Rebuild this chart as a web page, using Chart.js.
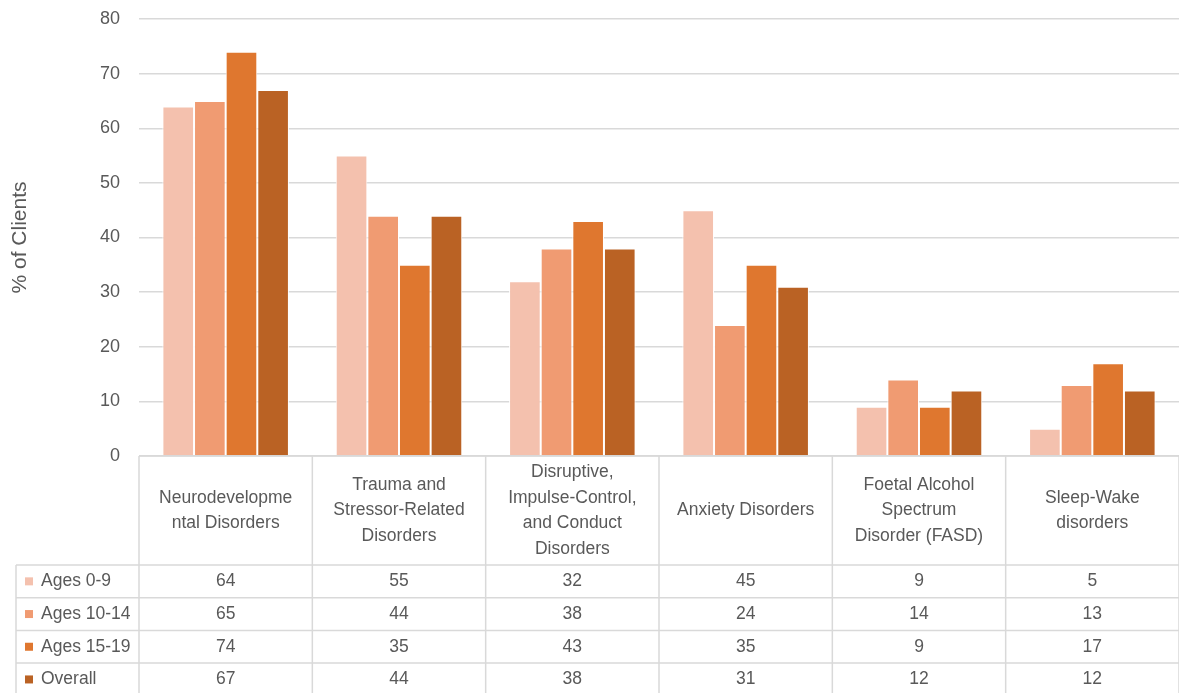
<!DOCTYPE html>
<html>
<head>
<meta charset="utf-8">
<script src="https://cdn.jsdelivr.net/npm/chart.js@4"></script>
<style>
  html, body { margin: 0; padding: 0; background: #fff; }
  #wrap { width: 1179px; height: 693px; }
</style>
</head>
<body>
<div id="wrap"><canvas id="clientsChart"></canvas></div>
<script>
// categorie (righe spezzate come nell'intestazione della tabella)
const categories = [
    ['Neurodevelopme', 'ntal Disorders'],
    ['Trauma and', 'Stressor-Related', 'Disorders'],
    ['Disruptive,', 'Impulse-Control,', 'and Conduct', 'Disorders'],
    ['Anxiety Disorders'],
    ['Foetal Alcohol', 'Spectrum', 'Disorder (FASD)'],
    ['Sleep-Wake', 'disorders']
];
const seriesNames = ['Ages 0-9', 'Ages 10-14', 'Ages 15-19', 'Overall'];
const ages0to9 = [64, 55, 32, 45, 9, 5];
const ages10to14 = [65, 44, 38, 24, 14, 13];
const ages15to19 = [74, 35, 43, 35, 9, 17];
const overall = [67, 44, 38, 31, 12, 12];
const seriesColors = ['#F4C1AE', '#F09B72', '#DF772F', '#BA6224'];

const yMin = 0, yMax = 80, yStep = 10;
const yTitle = '% of Clients';

const FONT = "'Liberation Sans', Arial, sans-serif";
const TEXT = '#595959';
const LINE = '#d9d9d9';

// tabella dati sotto il grafico (stile Excel)
const dataTablePlugin = {
    id: 'dataTable',
    afterDraw(chart) {
        const ctx = chart.ctx;
        const xs = chart.scales.x;
        const area = chart.chartArea;
        const top = area.bottom;
        const headerH = 109;
        const rowH = 32.7;
        const tableLeft = 16;
        const n = categories.length;
        const colW = (area.right - area.left) / n;
        const bottom = top + headerH + rowH * seriesNames.length;

        ctx.save();
        ctx.strokeStyle = LINE;
        ctx.lineWidth = 1.5;
        ctx.beginPath();
        ctx.moveTo(area.left, top);
        ctx.lineTo(area.right, top);
        for (let i = 0; i <= n; i++) {
            const xb = area.left + i * colW;
            ctx.moveTo(xb, top);
            ctx.lineTo(xb, bottom);
        }
        ctx.moveTo(tableLeft, top + headerH);
        ctx.lineTo(tableLeft, bottom);
        for (let r = 0; r <= seriesNames.length; r++) {
            const y = top + headerH + r * rowH;
            ctx.moveTo(tableLeft, y);
            ctx.lineTo(area.right, y);
        }
        ctx.stroke();

        // intestazioni
        ctx.fillStyle = TEXT;
        ctx.font = '17.5px ' + FONT;
        ctx.textAlign = 'center';
        ctx.textBaseline = 'middle';
        const lh = 25.6;
        categories.forEach((lines, i) => {
            const cx = xs.getPixelForValue(i);
            lines.forEach((t, j) => {
                ctx.fillText(t, cx, top + headerH / 2 + (j - (lines.length - 1) / 2) * lh);
            });
        });

        // righe con legenda
        const rows = [ages0to9, ages10to14, ages15to19, overall];
        rows.forEach((vals, r) => {
            const cy = top + headerH + r * rowH + rowH / 2;
            ctx.fillStyle = seriesColors[r];
            ctx.fillRect(25, cy - 4, 8, 8);
            ctx.fillStyle = TEXT;
            ctx.textAlign = 'left';
            ctx.fillText(seriesNames[r], 41, cy);
            ctx.textAlign = 'center';
            vals.forEach((v, i) => ctx.fillText(String(v), xs.getPixelForValue(i), cy));
        });
        ctx.restore();
    }
};

const allSeries = [ages0to9, ages10to14, ages15to19, overall];
const datasets = allSeries.map((vals, k) => ({
    label: seriesNames[k],
    data: vals,
    backgroundColor: seriesColors[k],
    borderColor: '#ffffff',
    borderWidth: 1,
    categoryPercentage: 0.73,
    barPercentage: 1.0
}));

new Chart(document.getElementById('clientsChart'), {
    type: 'bar',
    data: { labels: categories.map(c => c.join(' ')), datasets: datasets },
    options: {
        responsive: true,
        maintainAspectRatio: false,
        animation: false,
        layout: { padding: { top: 19, right: 0, bottom: 237, left: 0 } },
        scales: {
            x: { display: false },
            y: {
                min: yMin, max: yMax,
                ticks: { stepSize: yStep, color: TEXT, padding: 19, font: { size: 18, family: FONT } },
                grid: { color: LINE, lineWidth: 1.5, drawTicks: false },
                border: { display: false },
                title: { display: true, text: yTitle, color: TEXT, font: { size: 21, family: FONT }, padding: { top: 8, bottom: 0 } },
                afterFit(scale) {
                    scale.width = 139;
                    scale.paddingTop = 0;
                    scale.paddingBottom = 0;
                }
            }
        },
        plugins: {
            legend: { display: false },
            tooltip: { enabled: false }
        }
    },
    plugins: [dataTablePlugin]
});
</script>
</body>
</html>
